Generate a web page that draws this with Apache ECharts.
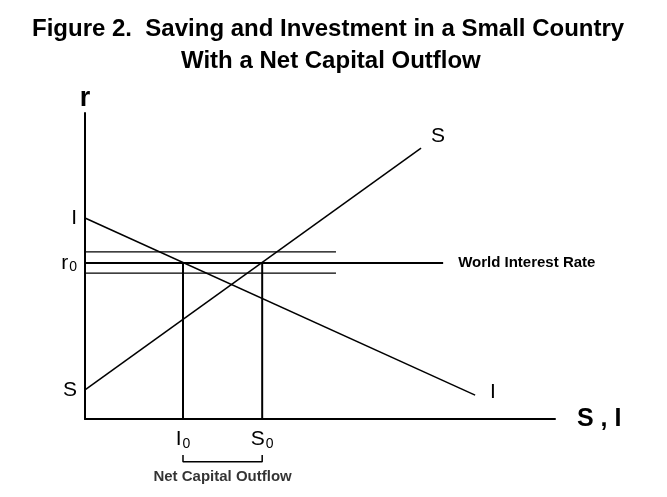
<!DOCTYPE html>
<html>
<head>
<meta charset="utf-8">
<script src="https://cdn.jsdelivr.net/npm/echarts@6/dist/echarts.min.js"></script>
<style>
html, body { margin: 0; padding: 0; background: #fff; }
#main { width: 667px; height: 497px; }
</style>
</head>
<body>
<div id="main"></div>
<script>
// curves, in chart units (axes run 0..10)
var sCurve = [[0, 0.95], [7.15, 8.85]];
var iCurve = [[0, 6.57], [8.30, 0.78]];

// interest rates
var r0 = 5.10;
var bandHigh = 5.46;
var bandLow = 4.77;
var bandEnd = 5.34;
var worldEnd = 7.62;

// quantities at r0
var i0 = 2.085;
var s0 = 3.77;

// bracket under the axis
var bracketTop = -1.18;
var bracketBottom = -1.40;
var bracketText = -1.90;

// tick labels
var yTickValues = [0.95, 5.10, 6.57];
var yTickLabels = ['{m|S}', '{m|r}{sub|0}', '{m|I}'];
var xTickValues = [i0, s0];
var xTickLabels = ['{m|I}{sub|0}', '{m|S}{sub|0}'];

var FONT = 'Liberation Sans';

function pickLabel(values, labels, v) {
    for (var k = 0; k < values.length; k++) {
        if (Math.abs(values[k] - v) < 1e-6) return labels[k];
    }
    return '';
}

var rich = {
    m: { fontFamily: FONT, fontSize: 21, color: '#000' },
    sub: { fontFamily: FONT, fontSize: 14, color: '#000', padding: [9, 0, 0, 1] }
};

function seg(data, width) {
    return {
        type: 'line',
        data: data,
        symbol: 'none',
        clip: false,
        lineStyle: { color: '#000', width: width }
    };
}

var myChart = echarts.init(document.getElementById('main'));

var sSeries = seg(sCurve, 1.5);
sSeries.endLabel = { show: true, formatter: 'S', fontFamily: FONT, fontSize: 21, color: '#000', offset: [2, -12] };
var iSeries = seg(iCurve, 1.5);
iSeries.endLabel = { show: true, formatter: 'I', fontFamily: FONT, fontSize: 21, color: '#000', offset: [7, -3] };
var worldSeries = seg([[0, r0], [worldEnd, r0]], 2);
worldSeries.endLabel = { show: true, formatter: 'World Interest Rate', fontFamily: FONT, fontSize: 15, fontWeight: 'bold', color: '#000', offset: [7, 0] };

var option = {
    animation: false,
    backgroundColor: '#fff',
    title: [{
        text: 'Figure 2.  Saving and Investment in a Small Country',
        left: 27, top: 12,
        textStyle: { fontFamily: FONT, fontSize: 24, fontWeight: 'bold', color: '#000' }
    }, {
        text: 'With a Net Capital Outflow',
        left: 176, top: 44,
        textStyle: { fontFamily: FONT, fontSize: 24, fontWeight: 'bold', color: '#000' }
    }],
    grid: { left: 85, right: 112, top: 113, bottom: 78 },
    xAxis: {
        type: 'value', min: 0, max: 10,
        name: 'S , I', nameLocation: 'end', nameGap: 22,
        nameTextStyle: { fontFamily: FONT, fontSize: 25, fontWeight: 'bold', color: '#000' },
        axisLine: { show: true, lineStyle: { color: '#000', width: 2 } },
        axisTick: { show: false },
        splitLine: { show: false },
        axisLabel: {
            customValues: xTickValues, margin: 9,
            formatter: function (v) { return pickLabel(xTickValues, xTickLabels, v); },
            rich: rich
        }
    },
    yAxis: {
        type: 'value', min: 0, max: 10,
        name: 'r', nameLocation: 'end', nameGap: 1,
        nameTextStyle: { fontFamily: FONT, fontSize: 27, fontWeight: 'bold', color: '#000', align: 'center' },
        axisLine: { show: true, lineStyle: { color: '#000', width: 2 } },
        axisTick: { show: false },
        splitLine: { show: false },
        axisLabel: {
            customValues: yTickValues, margin: 8,
            formatter: function (v) { return pickLabel(yTickValues, yTickLabels, v); },
            rich: rich
        }
    },
    series: [
        sSeries,
        iSeries,
        worldSeries,
        seg([[0, bandHigh], [bandEnd, bandHigh]], 1.2),
        seg([[0, bandLow], [bandEnd, bandLow]], 1.2),
        seg([[i0, r0], [i0, 0]], 2),
        seg([[s0, r0], [s0, 0]], 2),
        seg([[i0, bracketTop], [i0, bracketBottom], [s0, bracketBottom], [s0, bracketTop]], 1.5),
        {
            type: 'scatter',
            clip: false,
            symbolSize: 0,
            data: [[(i0 + s0) / 2, bracketText]],
            label: {
                show: true, position: 'inside', formatter: 'Net Capital Outflow',
                fontFamily: FONT, fontSize: 15, fontWeight: 'bold', color: '#000'
            }
        }
    ]
};

myChart.setOption(option);
</script>
</body>
</html>
